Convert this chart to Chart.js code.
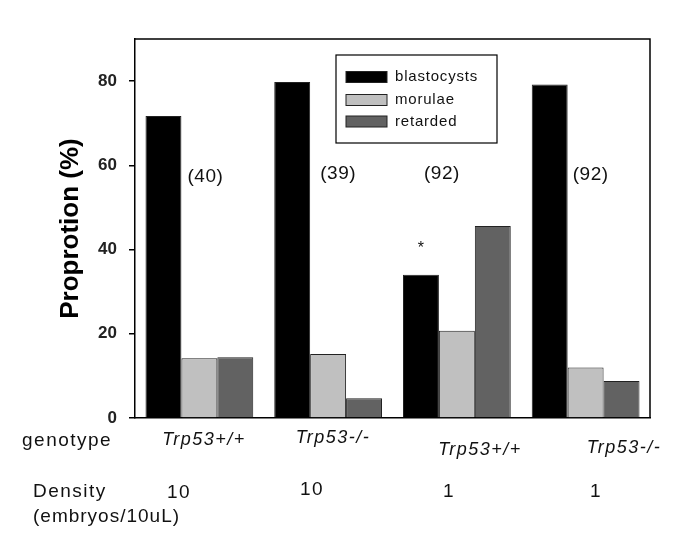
<!DOCTYPE html>
<html>
<head>
<meta charset="utf-8">
<script src="https://cdn.jsdelivr.net/npm/chart.js@4.4.1/dist/chart.umd.min.js"></script>
<style>
  html, body { margin: 0; padding: 0; background: #fff; }
  canvas { display: block; }
</style>
</head>
<body>
<canvas id="chart1" width="685" height="557"></canvas>
<script>
// data
const groups = ['A', 'B', 'C', 'D'];
const genotypes = ['Trp53+/+', 'Trp53-/-', 'Trp53+/+', 'Trp53-/-'];
const densities = ['10', '10', '1', '1'];
const sampleSizes = ['(40)', '(39)', '(92)', '(92)'];
const blastocysts = [71.7, 79.8, 34.0, 79.2];
const morulae = [14.2, 15.2, 20.7, 12.0];
const retarded = [14.4, 4.7, 45.6, 8.8];
const yTicks = [0, 20, 40, 60, 80];

const FONT = '"Liberation Sans", Arial, sans-serif';

function drawText(ctx, txt, x, y, font, align, spacing) {
  ctx.save();
  ctx.font = font;
  ctx.fillStyle = '#111';
  ctx.textAlign = align || 'left';
  ctx.textBaseline = 'middle';
  if ('letterSpacing' in ctx) ctx.letterSpacing = spacing || '0px';
  ctx.fillText(txt, x, y);
  ctx.restore();
}

// frame, legend box and the text around the plot
const extras = {
  id: 'extras',
  afterDraw(chart) {
    const ctx = chart.ctx;
    const a = chart.chartArea;
    const xs = chart.scales.x, ys = chart.scales.y;

    // top and right edges of the box
    ctx.save();
    ctx.strokeStyle = '#000';
    ctx.lineWidth = 1.5;
    ctx.beginPath();
    ctx.moveTo(a.left, a.top);
    ctx.lineTo(a.right, a.top);
    ctx.lineTo(a.right, a.bottom);
    ctx.stroke();

    // legend
    ctx.lineWidth = 1.2;
    ctx.strokeRect(336, 55, 161, 88);
    const rows = [77, 100, 121.5];
    chart.data.datasets.forEach((ds, i) => {
      ctx.fillStyle = ds.backgroundColor;
      ctx.fillRect(346, rows[i] - 5.5, 41, 11);
      ctx.strokeStyle = '#222';
      ctx.lineWidth = 1;
      ctx.strokeRect(346, rows[i] - 5.5, 41, 11);
      drawText(ctx, ds.label, 395, rows[i], '15px ' + FONT, 'left', '0.8px');
    });
    ctx.restore();

    // sample sizes above each group
    const nOff = [[6, 57.4], [10, 58.1], [-15, 58.1], [5, 57.7]];
    sampleSizes.forEach((s, i) => {
      drawText(ctx, s, xs.getPixelForValue(i) + nOff[i][0], ys.getPixelForValue(nOff[i][1]),
        '19px ' + FONT, 'center', '0.5px');
    });
    // significance mark over the third group
    drawText(ctx, '*', xs.getPixelForValue(2) - 36, ys.getPixelForValue(40.3), '16px ' + FONT, 'center');

    // rows under the axis
    drawText(ctx, 'genotype', 22, 441, '19px ' + FONT, 'left', '1.5px');
    drawText(ctx, 'Density', 33, 492, '19px ' + FONT, 'left', '1.5px');
    drawText(ctx, '(embryos/10uL)', 33, 517, '19px ' + FONT, 'left', '1px');
    const genoPos = [[204, 440], [333, 438], [480, 450], [624, 448]];
    genotypes.forEach((g, i) => {
      drawText(ctx, g, genoPos[i][0], genoPos[i][1], 'italic 18px ' + FONT, 'center', '1.5px');
    });
    const densPos = [[179, 493], [312, 490], [449, 492], [596, 492]];
    densities.forEach((d, i) => {
      drawText(ctx, d, densPos[i][0], densPos[i][1], '19px ' + FONT, 'center', '1.5px');
    });
  }
};

new Chart(document.getElementById('chart1'), {
  type: 'bar',
  data: {
    labels: groups,
    datasets: [
      { label: 'blastocysts', data: blastocysts, backgroundColor: '#000000' },
      { label: 'morulae', data: morulae, backgroundColor: '#c0c0c0' },
      { label: 'retarded', data: retarded, backgroundColor: '#626262' }
    ]
  },
  options: {
    responsive: false,
    animation: false,
    layout: { padding: { top: 39, right: 35, bottom: 139, left: 0 } },
    datasets: {
      bar: {
        categoryPercentage: 0.837,
        barPercentage: 1,
        borderWidth: 1,
        borderColor: '#222'
      }
    },
    scales: {
      x: {
        grid: { display: false },
        ticks: { display: false },
        border: { color: '#000', width: 1.5 },
        afterFit: s => { s.height = 0; }
      },
      y: {
        min: 0,
        max: 90,
        afterBuildTicks: s => { s.ticks = yTicks.map(v => ({ value: v })); },
        grid: { drawOnChartArea: false, drawTicks: true, tickLength: 6, color: '#000', lineWidth: 1.5 },
        border: { color: '#000', width: 1.5 },
        ticks: { padding: 12, color: '#222', font: { family: FONT, size: 17, weight: 'bold' } },
        title: {
          display: true,
          text: 'Proprotion (%)',
          color: '#000',
          font: { family: FONT, size: 26, weight: 'bold' },
          padding: { top: 55, bottom: 0 }
        },
        afterFit: s => { s.width = 135; }
      }
    },
    plugins: {
      legend: { display: false },
      tooltip: { enabled: false }
    }
  },
  plugins: [extras]
});
</script>
</body>
</html>
